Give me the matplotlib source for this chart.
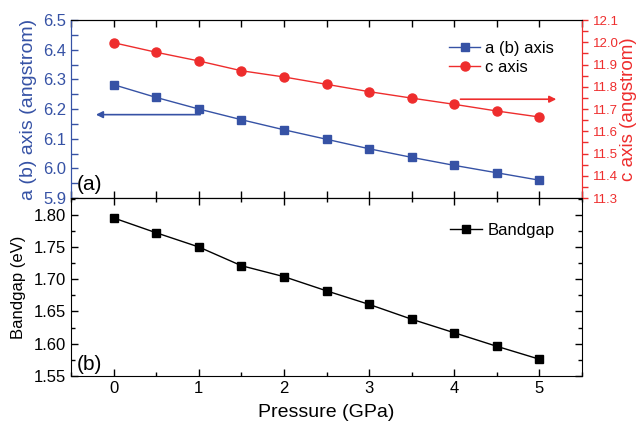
import matplotlib
matplotlib.use("Agg")
import matplotlib.pyplot as plt
from matplotlib.ticker import MultipleLocator, FormatStrFormatter

plt.rcParams['font.family'] = ['Liberation Sans', 'DejaVu Sans']

# values
pressure = [0, 0.5, 1, 1.5, 2, 2.5, 3, 3.5, 4, 4.5, 5]
a_axis = [6.282, 6.239, 6.200, 6.164, 6.130, 6.098, 6.066, 6.037, 6.010, 5.985, 5.960]
c_axis = [11.998, 11.955, 11.916, 11.872, 11.844, 11.811, 11.778, 11.749, 11.721, 11.691, 11.664]
bandgap = [1.795, 1.772, 1.750, 1.721, 1.704, 1.682, 1.661, 1.638, 1.617, 1.596, 1.576]

blue = '#3652a5'
red = '#ee2d2d'

fig = plt.figure(figsize=(6.38, 4.24), dpi=100)
ax1 = fig.add_axes([0.1113, 0.533, 0.801, 0.4198])
ax3 = fig.add_axes([0.1113, 0.1132, 0.801, 0.4198])
ax2 = ax1.twinx()

# (a) lattice constants
l1, = ax1.plot(pressure, a_axis, '-s', color=blue, lw=1, ms=5.5, label='a (b) axis')
l2, = ax2.plot(pressure, c_axis, '-o', color=red, lw=1, ms=6.5, label='c axis')
ax1.set_xlim(-0.5, 5.5)
ax1.set_ylim(5.9, 6.5)
ax2.set_ylim(11.3, 12.1)
ax1.set_xticklabels([])
ax1.xaxis.set_major_locator(MultipleLocator(1))
ax1.xaxis.set_minor_locator(MultipleLocator(0.5))
ax1.yaxis.set_major_locator(MultipleLocator(0.1))
ax1.yaxis.set_minor_locator(MultipleLocator(0.05))
ax1.yaxis.set_major_formatter(FormatStrFormatter('%.1f'))
ax2.yaxis.set_major_locator(MultipleLocator(0.1))
ax2.yaxis.set_minor_locator(MultipleLocator(0.05))
ax2.yaxis.set_major_formatter(FormatStrFormatter('%.1f'))

ax1.tick_params(axis='x', which='both', direction='in', top=True, bottom=True, length=5, width=1)
ax1.tick_params(axis='y', which='both', direction='in', length=5, width=1, colors=blue, labelsize=12)
ax2.tick_params(axis='y', which='both', direction='out', length=4, width=1, colors=red, labelsize=9.5)
ax1.spines['left'].set_color(blue)
ax2.spines['left'].set_color(blue)
ax2.spines['right'].set_color(red)
ax1.spines['right'].set_color(red)
ax1.set_ylabel('a (b) axis (angstrom)', color=blue, fontsize=14, labelpad=4)
ax2.set_ylabel('c axis (angstrom)', color=red, fontsize=13.5, labelpad=1)

ax1.annotate('', xy=(-0.24, 6.181), xytext=(1.05, 6.181),
             arrowprops=dict(arrowstyle='-|>', color=blue, lw=1.2, mutation_scale=10))
ax2.annotate('', xy=(5.23, 11.744), xytext=(4.04, 11.744),
             arrowprops=dict(arrowstyle='-|>', color=red, lw=1.2, mutation_scale=10))
ax1.text(0.012, 0.02, '(a)', transform=ax1.transAxes, fontsize=15, va='bottom', ha='left')
ax2.legend([l1, l2], ['a (b) axis', 'c axis'], loc='upper right', bbox_to_anchor=(0.975, 0.965),
           frameon=False, fontsize=12, handlelength=1.9, handletextpad=0.3, labelspacing=0.2)

# (b) bandgap
ax3.plot(pressure, bandgap, '-s', color='black', lw=1, ms=5.5, label='Bandgap')
ax3.set_xlim(-0.5, 5.5)
ax3.set_ylim(1.55, 1.8 + 0.25 * 16.7 / 161.3)
ax3.xaxis.set_major_locator(MultipleLocator(1))
ax3.xaxis.set_minor_locator(MultipleLocator(0.5))
ax3.yaxis.set_major_locator(MultipleLocator(0.05))
ax3.yaxis.set_minor_locator(MultipleLocator(0.025))
ax3.yaxis.set_major_formatter(FormatStrFormatter('%.2f'))
ax3.tick_params(which='both', direction='in', top=True, right=True, width=1, labelsize=12)
ax3.tick_params(which='major', length=5)
ax3.tick_params(which='minor', length=3)
ax3.set_xlabel('Pressure (GPa)', fontsize=14, labelpad=6)
ax3.set_ylabel('Bandgap (eV)', fontsize=12, labelpad=6)
ax3.text(0.012, 0.01, '(b)', transform=ax3.transAxes, fontsize=15, va='bottom', ha='left')
ax3.legend(loc='upper right', bbox_to_anchor=(0.975, 0.945), frameon=False, fontsize=12,
           handlelength=1.9, handletextpad=0.3)

plt.savefig('out.png', dpi=100)
